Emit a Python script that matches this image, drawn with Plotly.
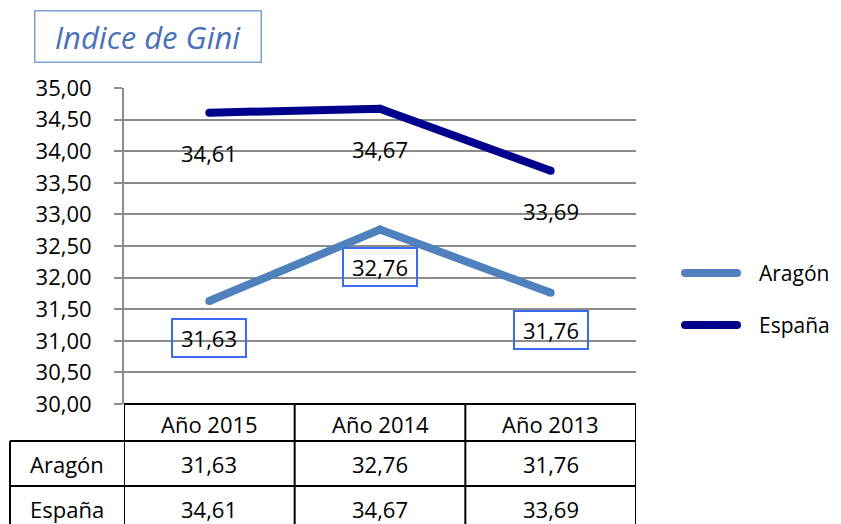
import plotly.graph_objects as go

categories = ["Año 2015", "Año 2014", "Año 2013"]
aragon = [31.63, 32.76, 31.76]
espana = [34.61, 34.67, 33.69]
series_names = ["Aragón", "España"]
title_text = "Indice de Gini"

COL_AR = "#4F81BD"
COL_ES = "#00008C"
GRID = "#8C8C8C"
FONT = "Open Sans"
FS = 22

def fmt(v):
    return f"{v:.2f}".replace(".", ",")

xs = list(range(len(categories)))

fig = go.Figure()
fig.add_trace(go.Scatter(x=xs, y=aragon, mode="lines+markers", name=series_names[0],
                         line=dict(color=COL_AR, width=8),
                         marker=dict(color=COL_AR, size=8, line=dict(width=0)), showlegend=False))
fig.add_trace(go.Scatter(x=xs, y=espana, mode="lines+markers", name=series_names[1],
                         line=dict(color=COL_ES, width=8),
                         marker=dict(color=COL_ES, size=8, line=dict(width=0)), showlegend=False))

ann = []
shapes = []
# data labels
for x, v in zip(xs, espana):
    ann.append(dict(x=x, y=v, xref="x", yref="y", text=fmt(v), showarrow=False,
                    xanchor="center", yanchor="middle",
                    yshift=-40, font=dict(size=FS, color="black", family=FONT)))
for x, v in zip(xs, aragon):
    ann.append(dict(x=x, y=v, xref="x", yref="y", text=fmt(v), showarrow=False,
                    xanchor="center", yanchor="middle",
                    yshift=-37, font=dict(size=FS, color="black", family=FONT),
                    width=64, height=28,
                    bordercolor="#3A6BF0", borderwidth=2, borderpad=4))

# title
ann.append(dict(x=(147.5 - 124) / 512, y=(404 - 36.5) / 316, xref="paper", yref="paper",
                xanchor="center", yanchor="middle",
                text=f"<i>{title_text}</i>", showarrow=False,
                font=dict(size=31, color="#4A72B8", family=FONT),
                width=215, height=40,
                bordercolor="#7FA0D4", borderwidth=1.5, borderpad=5))

# legend
leg_y = [(404 - 273) / 316, (404 - 325) / 316]
for name, col, ly in zip(series_names, [COL_AR, COL_ES], leg_y):
    shapes.append(dict(type="line", xref="paper", yref="paper",
                       x0=(685 - 124) / 512, x1=(737 - 124) / 512, y0=ly, y1=ly,
                       line=dict(color=col, width=8)))
    shapes.append(dict(type="circle", xref="paper", yref="paper",
                       x0=(681 - 124) / 512, x1=(689 - 124) / 512,
                       y0=ly - 4 / 316, y1=ly + 4 / 316,
                       fillcolor=col, line=dict(width=0)))
    shapes.append(dict(type="circle", xref="paper", yref="paper",
                       x0=(733 - 124) / 512, x1=(741 - 124) / 512,
                       y0=ly - 4 / 316, y1=ly + 4 / 316,
                       fillcolor=col, line=dict(width=0)))
    ann.append(dict(x=(757 - 124) / 512, y=ly, xref="paper", yref="paper", text=name,
                    showarrow=False, xanchor="left", yanchor="middle",
                    font=dict(size=21, color="black", family=FONT)))

# table
def py(pix):
    return (404 - pix) / 316

left_x = (10 - 124) / 512
y_top = 0
y_r1 = py(441)
y_r2 = py(486)
y_bot = py(540)
lw = 2
shapes.append(dict(type="line", xref="paper", yref="paper", x0=0, x1=1, y0=y_top, y1=y_top,
                   line=dict(color="black", width=lw)))
for yy in (y_r1, y_r2):
    shapes.append(dict(type="line", xref="paper", yref="paper", x0=left_x, x1=1, y0=yy, y1=yy,
                       line=dict(color="black", width=lw)))
shapes.append(dict(type="line", xref="paper", yref="paper", x0=left_x, x1=left_x, y0=y_r1, y1=y_bot,
                   line=dict(color="black", width=lw)))
for i in range(len(categories) + 1):
    xb = i - 0.5
    shapes.append(dict(type="line", xref="x", yref="paper", x0=xb, x1=xb, y0=y_top, y1=y_bot,
                       line=dict(color="black", width=lw)))
for x, c in zip(xs, categories):
    ann.append(dict(x=x, y=py(424), xref="x", yref="paper", text=c, showarrow=False,
                    xanchor="center", yanchor="middle",
                    font=dict(size=FS, color="black", family=FONT)))
for row_y, name, vals in ((py(464), series_names[0], aragon), (py(509), series_names[1], espana)):
    ann.append(dict(x=(67 - 124) / 512, y=row_y, xref="paper", yref="paper", text=name,
                    xanchor="center", yanchor="middle",
                    showarrow=False, font=dict(size=FS, color="black", family=FONT)))
    for x, v in zip(xs, vals):
        ann.append(dict(x=x, y=row_y, xref="x", yref="paper", text=fmt(v), showarrow=False,
                        xanchor="center", yanchor="middle",
                        font=dict(size=FS, color="black", family=FONT)))

fig.update_layout(
    width=833, height=516,
    margin=dict(l=116, r=205, t=80, b=120),
    paper_bgcolor="white", plot_bgcolor="white",
    separators=",.",
    annotations=ann, shapes=shapes,
    showlegend=False,
    font=dict(family=FONT, color="black"),
)
fig.update_xaxes(range=[-0.5, 2.5], showticklabels=False, showgrid=False, zeroline=False,
                 showline=False, ticks="")
fig.update_yaxes(range=[30, 35], dtick=0.5, tickformat=".2f", showgrid=True, gridcolor=GRID,
                 gridwidth=2, zeroline=False, showline=True, linecolor=GRID, linewidth=2,
                 ticks="outside", ticklen=8, tickcolor=GRID, tickwidth=2,
                 ticklabelstandoff=18,
                 tickfont=dict(size=FS, color="black", family=FONT))

fig.write_html("out.html")
